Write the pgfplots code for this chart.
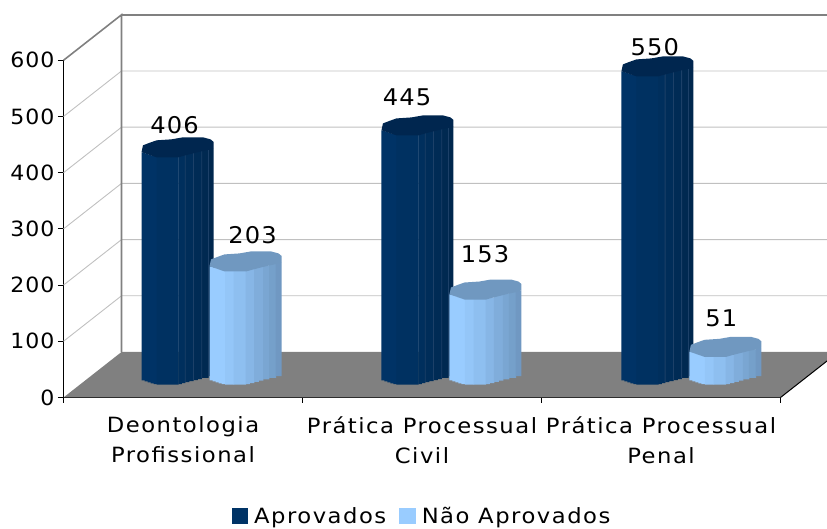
\documentclass[border=0pt]{standalone}
\usepackage{fontspec}
\setmainfont[LetterSpace=7.2,FakeStretch=1.08]{DejaVu Sans}
\newfontfamily\digitfont[LetterSpace=5,FakeStretch=1.05]{DejaVu Sans}
\usepackage{pgfplots}
\usepackage{pgfplotstable}
\usetikzlibrary{calc}
\pgfplotsset{compat=1.18}
\definecolor{darkA}{HTML}{003366}
\definecolor{darkB}{HTML}{003161}
\definecolor{darkC}{HTML}{002F5D}
\definecolor{darkD}{HTML}{002D59}
\definecolor{darkE}{HTML}{002B55}
\definecolor{darkF}{HTML}{002951}
\definecolor{darkG}{HTML}{00274E}
\definecolor{darkTop}{HTML}{00264F}
\definecolor{darkLine}{HTML}{1C4068}
\definecolor{liA}{HTML}{99CCFF}
\definecolor{liB}{HTML}{94C6F8}
\definecolor{liC}{HTML}{8EBFF0}
\definecolor{liD}{HTML}{87B6E6}
\definecolor{liE}{HTML}{80ADDB}
\definecolor{liF}{HTML}{7AA6D2}
\definecolor{liG}{HTML}{75A0CA}
\definecolor{liH}{HTML}{7098C2}
\definecolor{liTop}{HTML}{7098C0}
\definecolor{wall}{HTML}{808080}
\definecolor{gridc}{HTML}{C0C0C0}
\pgfplotstableread{
x v
0.477 406
1.481 445
2.485 550
}\aprov
\pgfplotstableread{
x v
0.7615 203
1.7655 153
2.7695 51
}\naoaprov
\newcommand\capath{%
\pgfpathmoveto{\pgfqpoint{-36pt}{17.2pt}}%
\pgfpathlineto{\pgfqpoint{-34.5pt}{24pt}}%
\pgfpathlineto{\pgfqpoint{-28pt}{26.5pt}}%
\pgfpathlineto{\pgfqpoint{-21pt}{29pt}}%
\pgfpathlineto{\pgfqpoint{-6pt}{30pt}}%
\pgfpathlineto{\pgfqpoint{5.5pt}{32pt}}%
\pgfpathlineto{\pgfqpoint{25.5pt}{32pt}}%
\pgfpathlineto{\pgfqpoint{33pt}{30pt}}%
\pgfpathlineto{\pgfqpoint{36pt}{27.5pt}}%
\pgfpathlineto{\pgfqpoint{36pt}{21.3pt}}%
\pgfpathlineto{\pgfqpoint{30.8pt}{19.4pt}}%
\pgfpathlineto{\pgfqpoint{24pt}{18pt}}%
\pgfpathlineto{\pgfqpoint{15.8pt}{16pt}}%
\pgfpathlineto{\pgfqpoint{7.5pt}{13.9pt}}%
\pgfpathlineto{\pgfqpoint{0.8pt}{12pt}}%
\pgfpathlineto{\pgfqpoint{-21pt}{12pt}}%
\pgfpathclose}
\pgfdeclareplotmark{cap}{\capath\pgfusepathqfill}
% one vertical strip of a cylinder: table, left, right, lower-edge offset, colour
\newcommand\strip[5]{\addplot[forget plot,ybar,draw=none,fill=#5,
  bar width={(#3-(#2)+0.4)*1pt},bar shift={(((#2)+(#3))/2+0.2)*1pt},
  yshift={(22.75+(#4))*1pt}] table[x=x,y=v]{#1};}
\begin{document}
\begin{tikzpicture}[x=1pt,y=1pt]
\path[use as bounding box,clip] (0,0) rectangle (827,529);
\begin{axis}[
  at={(63.5pt,131.5pt)},anchor=south west,
  scale only axis,width=717pt,height=337.2pt,
  xmin=0,xmax=3,ymin=0,ymax=600,clip=false,
  axis x line*=bottom,axis y line*=left,
  axis line style={black,line width=1.2pt,-},
  tick style={black,line width=1pt},
  tick align=outside,major tick length=5.5pt,
  xtick={0,1,2,3},x tick label as interval,
  xticklabels={{Deontologia\\Profissional},{Prática Processual\\Civil},{Prática Processual\\Penal}},
  xticklabel style={align=center,font=\fontsize{21}{30}\selectfont,yshift=-10pt},
  ytick={0,100,200,300,400,500,600},
  yticklabel style={font=\fontsize{21}{24}\selectfont\digitfont},
  /pgf/number format/assume math mode=true,
  legend style={at={(axis description cs:0.5,-0.352)},anchor=center,draw=none,fill=none,
    legend columns=2,font=\fontsize{21}{24}\selectfont,
    /tikz/every even column/.append style={column sep=11pt},inner sep=0pt},
  legend image code/.code={\fill[#1] (0pt,-8.2pt) rectangle (16.5pt,8.3pt);\path (20.5pt,0pt);},
  legend cell align=left,
]
\addlegendimage{fill=darkA,draw=none}
\addlegendimage{fill=liA,draw=none}
\addlegendentry{Aprovados}
\addlegendentry{Não Aprovados}

% walls
\foreach \v in {100,200,300,400,500}{
  \edef\tmp{\noexpand\draw[gridc,line width=0.9pt] (axis cs:0,\v) -- ++(58pt,45.5pt) -- ($(axis cs:3,\v)+(60pt,45.5pt)$);}
  \tmp
}
\draw[wall,line width=1.6pt] (axis cs:0,600) -- ++(58pt,45.5pt) -- +(0pt,-337.2pt);
\draw[wall,line width=1.8pt] ($(axis cs:0,600)+(58pt,45.5pt)$) -- ($(axis cs:3,600)+(60pt,45.5pt)$);
\fill[wall] (axis cs:0,0) -- ++(58pt,45.5pt) -- ($(axis cs:3,0)+(58pt,45.5pt)$) -- (axis cs:3,0) -- cycle;
\draw[black,line width=1pt] (axis cs:3,0) -- ++(58pt,45.5pt);

% Aprovados
\strip{\aprov}{-36}{-33}{-5.7}{darkA}
\strip{\aprov}{-33}{-30}{-6.7}{darkA}
\strip{\aprov}{-30}{-27}{-7.7}{darkA}
\strip{\aprov}{-27}{-24}{-8.7}{darkA}
\strip{\aprov}{-24}{-21}{-9.5}{darkA}
\strip{\aprov}{-21}{0.8}{-10}{darkB}
\strip{\aprov}{0.8}{4}{-9.5}{darkC}
\strip{\aprov}{4}{7.5}{-8.5}{darkC}
\strip{\aprov}{7.5}{11.5}{-7.5}{darkD}
\strip{\aprov}{11.5}{15.8}{-6.5}{darkD}
\strip{\aprov}{15.8}{20}{-5.5}{darkE}
\strip{\aprov}{20}{24}{-4.5}{darkE}
\strip{\aprov}{24}{30.8}{-3.2}{darkF}
\strip{\aprov}{30.8}{35.6}{-1.5}{darkG}
\strip{\aprov}{7.3}{7.7}{-7.5}{darkLine}
\strip{\aprov}{15.6}{16}{-5.5}{darkLine}
\strip{\aprov}{23.8}{24.2}{-3.5}{darkLine}
\strip{\aprov}{30.6}{31}{-2}{darkLine}
\addplot[forget plot,only marks,mark=cap,darkTop,mark options={fill=darkTop,draw=none}] table[x=x,y=v]{\aprov};

% Nao Aprovados
\strip{\naoaprov}{-36}{-33}{-5.7}{liA}
\strip{\naoaprov}{-33}{-30}{-6.7}{liA}
\strip{\naoaprov}{-30}{-27}{-7.7}{liA}
\strip{\naoaprov}{-27}{-24}{-8.7}{liA}
\strip{\naoaprov}{-24}{-20.5}{-9.5}{liA}
\strip{\naoaprov}{-20.5}{-11.8}{-10}{liB}
\strip{\naoaprov}{-11.8}{0.2}{-10}{liC}
\strip{\naoaprov}{0.2}{4}{-9.5}{liD}
\strip{\naoaprov}{4}{8.5}{-8.5}{liD}
\strip{\naoaprov}{8.5}{13}{-7.1}{liE}
\strip{\naoaprov}{13}{17.5}{-6}{liE}
\strip{\naoaprov}{17.5}{23.5}{-4.7}{liF}
\strip{\naoaprov}{23.5}{30.2}{-3.2}{liG}
\strip{\naoaprov}{30.2}{35.6}{-1.5}{liH}
\addplot[forget plot,only marks,mark=cap,liTop,mark options={fill=liTop,draw=none}] table[x=x,y=v]{\naoaprov};

% value labels
\tikzset{vl/.style={font=\fontsize{23}{26}\selectfont\digitfont,inner sep=0pt}}
\node[vl,xshift=-3pt,yshift=44.3pt] at (axis cs:0.477,406) {406};
\node[vl,xshift=7pt,yshift=48.4pt] at (axis cs:0.7615,203) {203};
\node[vl,xshift=-10.5pt,yshift=50.4pt] at (axis cs:1.481,445) {445};
\node[vl,xshift=-0.5pt,yshift=57.5pt] at (axis cs:1.7655,153) {153};
\node[vl,xshift=-2.5pt,yshift=41.4pt] at (axis cs:2.485,550) {550};
\node[vl,xshift=-4.2pt,yshift=50.8pt] at (axis cs:2.7695,51) {51};
\end{axis}
\end{tikzpicture}
\end{document}
